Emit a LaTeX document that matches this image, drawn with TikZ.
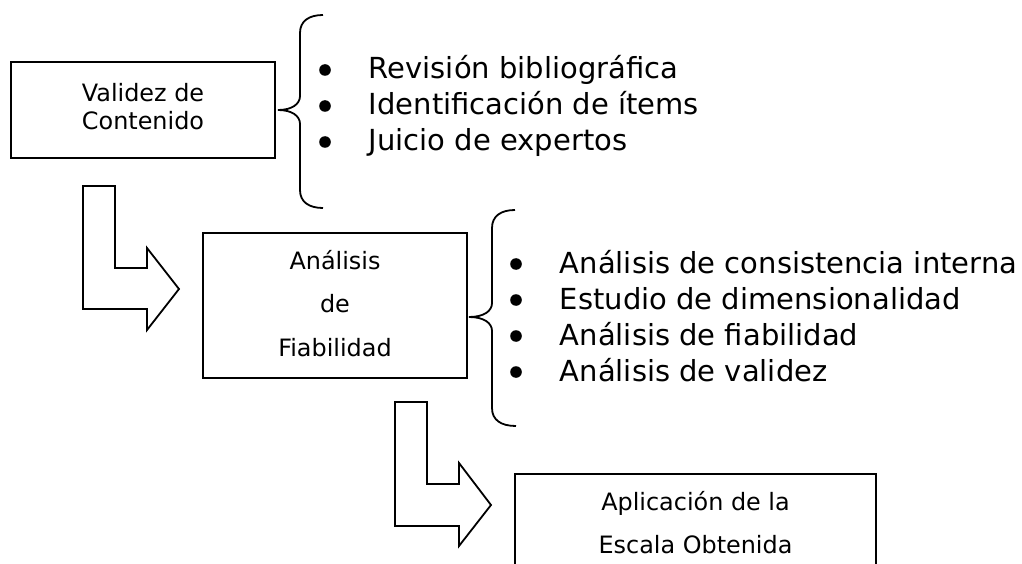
\documentclass[tikz,border=0pt]{standalone}
\usepackage{fontspec}
\setmainfont{DejaVu Sans}
\usepackage{tikz}
\usetikzlibrary{calc}

% struts to place the lines inside the boxes
\newcommand{\alto}[1]{\rule{0pt}{#1pt}}
\newcommand{\bajo}[1]{\rule[-#1pt]{0pt}{#1pt}}

\begin{document}
\begin{tikzpicture}[x=1pt, y=-1pt, line width=1.8pt,
  caja/.style={draw, inner sep=0pt, align=center},
  item/.style={anchor=base west, inner sep=0pt, font=\fontsize{29}{36}\selectfont}]
\useasboundingbox (0,0) rectangle (1022,564);
\clip (0,0) rectangle (1022,564);

% boxes
\node[caja, minimum width=264, minimum height=96, font=\fontsize{23.9}{28}\selectfont]
  (validez) at (143,110) {\alto{23}Validez de\\Contenido\bajo{11}};
\node[caja, minimum width=264, minimum height=145, font=\fontsize{23.9}{43.5}\selectfont]
  (fiabilidad) at (335,305.5) {\alto{22}Análisis\\de\\Fiabilidad\bajo{8}};
\node[caja, minimum width=361, minimum height=99, font=\fontsize{23.9}{43}\selectfont]
  (aplicacion) at (695.5,523.5) {\alto{20}Aplicación de la\\Escala Obtenida\bajo{4}};

% first list
\node[item] (revision) at (368,79) {Revisión bibliográfica};
\node[item] (items) at (368,115) {Identificación de ítems};
\node[item] (juicio) at (368,151) {Juicio de expertos};

% second list
\node[item] (consistencia) at (559,273) {Análisis de consistencia interna};
\node[item] (dimension) at (559,309) {Estudio de dimensionalidad};
\node[item] (fiab) at (559,345) {Análisis de fiabilidad};
\node[item] (validez2) at (559,381) {Análisis de validez};

% bullets
\foreach \n in {revision,items,juicio,consistencia,dimension,fiab,validez2}
  \fill ($(\n.base west)+(-43,-9)$) circle[radius=5.8pt];

% braces
\draw (323,15) .. controls (309,15) and (300,21) .. (300,33) -- (300,96)
  .. controls (300,104) and (292,110) .. (278,110)
  .. controls (292,110) and (300,116) .. (300,124) -- (300,190)
  .. controls (300,202) and (309,208) .. (323,208);
\draw (515,210) .. controls (501,210) and (492,216) .. (492,228) -- (492,303)
  .. controls (492,311) and (484,317) .. (469,317)
  .. controls (484,317) and (492,323) .. (492,331) -- (492,408)
  .. controls (492,420) and (501,426) .. (516,426);

% bent arrows
\draw (83,186) -- (115,186) -- (115,268) -- (147,268) -- (147,248) -- (179,289)
  -- (147,330) -- (147,309) -- (83,309) -- cycle;
\draw (395,402) -- (427,402) -- (427,484) -- (459,484) -- (459,463) -- (491,505)
  -- (459,546) -- (459,526) -- (395,526) -- cycle;
\end{tikzpicture}
\end{document}
